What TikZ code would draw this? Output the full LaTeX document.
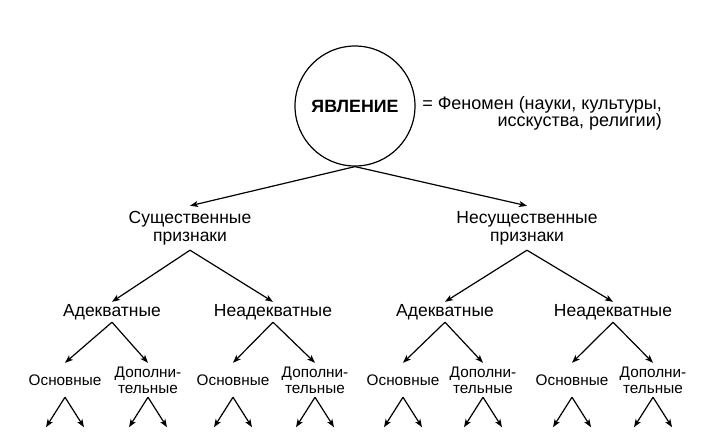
\documentclass[tikz,border=0pt]{standalone}
\usepackage{fontspec}
\setmainfont{Liberation Sans}
\usetikzlibrary{arrows.meta}
\begin{document}
\begin{tikzpicture}[x=1pt,y=-1pt,
  arr/.style={-{Stealth[length=8pt,width=6pt,inset=2pt]},line width=1.2pt},
  lvone/.style={align=center,font=\fontsize{17.5}{18}\selectfont,minimum height=44pt,inner sep=0pt},
  lvtwo/.style={align=center,font=\fontsize{17.5}{18}\selectfont,minimum height=20pt,inner sep=0pt},
  lvthree/.style={align=center,font=\fontsize{15.3}{16}\selectfont,minimum height=34pt,inner sep=0pt},
  root/.style={circle,draw,line width=1.2pt,minimum size=120pt,inner sep=0pt,font=\fontsize{17.8}{18}\selectfont\bfseries}
]
\useasboundingbox[fill=white] (0,0) rectangle (713,445);

\node[root] (yav) at (355,106) {ЯВЛЕНИЕ};
\node[anchor=east,align=right,font=\fontsize{18}{17}\selectfont,inner sep=0pt] (fen) at (662,113)
  {= Феномен (науки, культуры,\\исскуства, религии)};

\node[lvone] (s) at (190,228) {Существенные\\признаки};
\node[lvone] (n) at (527,228) {Несущественные\\признаки};

\node[lvtwo] (sa) at (112,312) {Адекватные};
\node[lvtwo] (sn) at (273,312) {Неадекватные};
\node[lvtwo] (na) at (445,312) {Адекватные};
\node[lvtwo] (nn) at (613,312) {Неадекватные};

\node[lvthree] (sao) at (65,380) {Основные};
\node[lvthree] (sad) at (148,380) {Дополни-\\тельные};
\node[lvthree] (sno) at (233,380) {Основные};
\node[lvthree] (snd) at (315,380) {Дополни-\\тельные};
\node[lvthree] (nao) at (403,380) {Основные};
\node[lvthree] (nad) at (483,380) {Дополни-\\тельные};
\node[lvthree] (nno) at (572,380) {Основные};
\node[lvthree] (nnd) at (653,380) {Дополни-\\тельные};

\draw[arr] (yav.south) -- (s.north);
\draw[arr] (yav.south) -- (n.north);

\draw[arr] (s.south) -- (sa.north);
\draw[arr] (s.south) -- (sn.north);
\draw[arr] (n.south) -- (na.north);
\draw[arr] (n.south) -- (nn.north);

\draw[arr] (sa.south) -- (sao.north);
\draw[arr] (sa.south) -- (sad.north);
\draw[arr] (sn.south) -- (sno.north);
\draw[arr] (sn.south) -- (snd.north);
\draw[arr] (na.south) -- (nao.north);
\draw[arr] (na.south) -- (nad.north);
\draw[arr] (nn.south) -- (nno.north);
\draw[arr] (nn.south) -- (nnd.north);

\foreach \m in {sao,sad,sno,snd,nao,nad,nno,nnd}{
  \coordinate (\m-l) at ([xshift=-19pt,yshift=-30pt]\m.south);
  \coordinate (\m-r) at ([xshift=19pt,yshift=-30pt]\m.south);
  \draw[arr] (\m.south) -- (\m-l);
  \draw[arr] (\m.south) -- (\m-r);
}
\end{tikzpicture}
\end{document}
